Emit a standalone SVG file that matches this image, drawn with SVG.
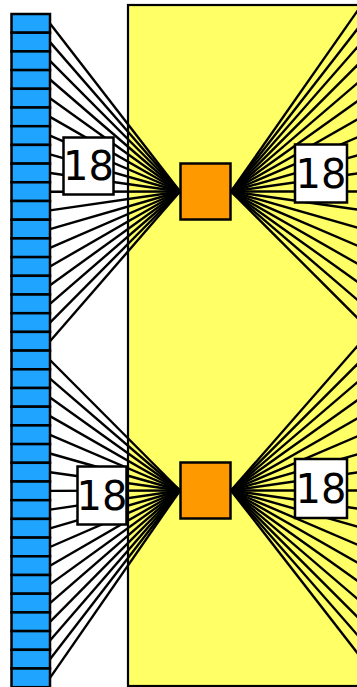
<svg xmlns="http://www.w3.org/2000/svg" width="357" height="687" viewBox="0 0 357 687">
<style>
.w{stroke:#000;stroke-width:2.4;fill:none}
.cell{fill:#1FA5FF;stroke:#000;stroke-width:2.5}
.hub{fill:#FF9900;stroke:#000;stroke-width:2.5}
.lbl{fill:#fff;stroke:#000;stroke-width:2.5}
.t{font-family:"DejaVu Sans",sans-serif;font-size:40px;fill:#000;text-anchor:middle}
</style>
<rect id="container" x="128" y="5" width="240" height="681" fill="#FFFF66" stroke="#000" stroke-width="2.2"/>
<g id="connectors" class="w">
<line x1="50" y1="23.4" x2="180" y2="191.5"/>
<line x1="50" y1="42.1" x2="180" y2="191.5"/>
<line x1="50" y1="60.8" x2="180" y2="191.5"/>
<line x1="50" y1="79.5" x2="180" y2="191.5"/>
<line x1="50" y1="98.2" x2="180" y2="191.5"/>
<line x1="50" y1="116.9" x2="180" y2="191.5"/>
<line x1="50" y1="135.6" x2="180" y2="191.5"/>
<line x1="50" y1="154.3" x2="180" y2="191.5"/>
<line x1="50" y1="173" x2="180" y2="191.5"/>
<line x1="50" y1="191.7" x2="180" y2="191.5"/>
<line x1="50" y1="210.4" x2="180" y2="191.5"/>
<line x1="50" y1="229.1" x2="180" y2="191.5"/>
<line x1="50" y1="247.8" x2="180" y2="191.5"/>
<line x1="50" y1="266.5" x2="180" y2="191.5"/>
<line x1="50" y1="285.2" x2="180" y2="191.5"/>
<line x1="50" y1="303.9" x2="180" y2="191.5"/>
<line x1="50" y1="322.6" x2="180" y2="191.5"/>
<line x1="50" y1="341.3" x2="180" y2="191.5"/>
<line x1="50" y1="360" x2="180" y2="490.5"/>
<line x1="50" y1="378.7" x2="180" y2="490.5"/>
<line x1="50" y1="397.4" x2="180" y2="490.5"/>
<line x1="50" y1="416.1" x2="180" y2="490.5"/>
<line x1="50" y1="434.8" x2="180" y2="490.5"/>
<line x1="50" y1="453.5" x2="180" y2="490.5"/>
<line x1="50" y1="472.2" x2="180" y2="490.5"/>
<line x1="50" y1="490.9" x2="180" y2="490.5"/>
<line x1="50" y1="509.6" x2="180" y2="490.5"/>
<line x1="50" y1="528.3" x2="180" y2="490.5"/>
<line x1="50" y1="547" x2="180" y2="490.5"/>
<line x1="50" y1="565.7" x2="180" y2="490.5"/>
<line x1="50" y1="584.4" x2="180" y2="490.5"/>
<line x1="50" y1="603.1" x2="180" y2="490.5"/>
<line x1="50" y1="621.8" x2="180" y2="490.5"/>
<line x1="50" y1="640.5" x2="180" y2="490.5"/>
<line x1="50" y1="659.2" x2="180" y2="490.5"/>
<line x1="50" y1="677.9" x2="180" y2="490.5"/>
<line x1="231" y1="191.5" x2="365" y2="0.1"/>
<line x1="231" y1="191.5" x2="365" y2="19.24"/>
<line x1="231" y1="191.5" x2="365" y2="38.38"/>
<line x1="231" y1="191.5" x2="365" y2="57.52"/>
<line x1="231" y1="191.5" x2="365" y2="76.66"/>
<line x1="231" y1="191.5" x2="365" y2="95.8"/>
<line x1="231" y1="191.5" x2="365" y2="114.94"/>
<line x1="231" y1="191.5" x2="365" y2="134.08"/>
<line x1="231" y1="191.5" x2="365" y2="153.22"/>
<line x1="231" y1="191.5" x2="365" y2="172.36"/>
<line x1="231" y1="191.5" x2="365" y2="191.5"/>
<line x1="231" y1="191.5" x2="365" y2="210.64"/>
<line x1="231" y1="191.5" x2="365" y2="229.78"/>
<line x1="231" y1="191.5" x2="365" y2="248.92"/>
<line x1="231" y1="191.5" x2="365" y2="268.06"/>
<line x1="231" y1="191.5" x2="365" y2="287.2"/>
<line x1="231" y1="191.5" x2="365" y2="306.34"/>
<line x1="231" y1="191.5" x2="365" y2="325.48"/>
<line x1="231" y1="490.5" x2="365" y2="337.38"/>
<line x1="231" y1="490.5" x2="365" y2="356.52"/>
<line x1="231" y1="490.5" x2="365" y2="375.66"/>
<line x1="231" y1="490.5" x2="365" y2="394.8"/>
<line x1="231" y1="490.5" x2="365" y2="413.94"/>
<line x1="231" y1="490.5" x2="365" y2="433.08"/>
<line x1="231" y1="490.5" x2="365" y2="452.22"/>
<line x1="231" y1="490.5" x2="365" y2="471.36"/>
<line x1="231" y1="490.5" x2="365" y2="490.5"/>
<line x1="231" y1="490.5" x2="365" y2="509.64"/>
<line x1="231" y1="490.5" x2="365" y2="528.78"/>
<line x1="231" y1="490.5" x2="365" y2="547.92"/>
<line x1="231" y1="490.5" x2="365" y2="567.06"/>
<line x1="231" y1="490.5" x2="365" y2="586.2"/>
<line x1="231" y1="490.5" x2="365" y2="605.34"/>
<line x1="231" y1="490.5" x2="365" y2="624.48"/>
<line x1="231" y1="490.5" x2="365" y2="643.62"/>
<line x1="231" y1="490.5" x2="365" y2="662.76"/>
</g>
<g id="column">
<rect class="cell" x="11.5" y="14" width="38.5" height="18.7"/>
<rect class="cell" x="11.5" y="32.7" width="38.5" height="18.7"/>
<rect class="cell" x="11.5" y="51.4" width="38.5" height="18.7"/>
<rect class="cell" x="11.5" y="70.1" width="38.5" height="18.7"/>
<rect class="cell" x="11.5" y="88.8" width="38.5" height="18.7"/>
<rect class="cell" x="11.5" y="107.5" width="38.5" height="18.7"/>
<rect class="cell" x="11.5" y="126.2" width="38.5" height="18.7"/>
<rect class="cell" x="11.5" y="144.9" width="38.5" height="18.7"/>
<rect class="cell" x="11.5" y="163.6" width="38.5" height="18.7"/>
<rect class="cell" x="11.5" y="182.3" width="38.5" height="18.7"/>
<rect class="cell" x="11.5" y="201" width="38.5" height="18.7"/>
<rect class="cell" x="11.5" y="219.7" width="38.5" height="18.7"/>
<rect class="cell" x="11.5" y="238.4" width="38.5" height="18.7"/>
<rect class="cell" x="11.5" y="257.1" width="38.5" height="18.7"/>
<rect class="cell" x="11.5" y="275.8" width="38.5" height="18.7"/>
<rect class="cell" x="11.5" y="294.5" width="38.5" height="18.7"/>
<rect class="cell" x="11.5" y="313.2" width="38.5" height="18.7"/>
<rect class="cell" x="11.5" y="331.9" width="38.5" height="18.7"/>
<rect class="cell" x="11.5" y="350.6" width="38.5" height="18.7"/>
<rect class="cell" x="11.5" y="369.3" width="38.5" height="18.7"/>
<rect class="cell" x="11.5" y="388" width="38.5" height="18.7"/>
<rect class="cell" x="11.5" y="406.7" width="38.5" height="18.7"/>
<rect class="cell" x="11.5" y="425.4" width="38.5" height="18.7"/>
<rect class="cell" x="11.5" y="444.1" width="38.5" height="18.7"/>
<rect class="cell" x="11.5" y="462.8" width="38.5" height="18.7"/>
<rect class="cell" x="11.5" y="481.5" width="38.5" height="18.7"/>
<rect class="cell" x="11.5" y="500.2" width="38.5" height="18.7"/>
<rect class="cell" x="11.5" y="518.9" width="38.5" height="18.7"/>
<rect class="cell" x="11.5" y="537.6" width="38.5" height="18.7"/>
<rect class="cell" x="11.5" y="556.3" width="38.5" height="18.7"/>
<rect class="cell" x="11.5" y="575" width="38.5" height="18.7"/>
<rect class="cell" x="11.5" y="593.7" width="38.5" height="18.7"/>
<rect class="cell" x="11.5" y="612.4" width="38.5" height="18.7"/>
<rect class="cell" x="11.5" y="631.1" width="38.5" height="18.7"/>
<rect class="cell" x="11.5" y="649.8" width="38.5" height="18.7"/>
<rect class="cell" x="11.5" y="668.5" width="38.5" height="18.7"/>
</g>
<g id="hub-top"><rect class="hub" x="180.5" y="163.5" width="50" height="56"/></g>
<g id="hub-bottom"><rect class="hub" x="180.5" y="462.5" width="50" height="56"/></g>
<g id="label-top-left"><rect class="lbl" x="63.5" y="137.5" width="50" height="57"/><text class="t" x="88.5" y="180">18</text></g>
<g id="label-bottom-left"><rect class="lbl" x="77.5" y="466.5" width="49" height="58"/><text class="t" x="102" y="510">18</text></g>
<g id="label-top-right"><rect class="lbl" x="295" y="144.5" width="52" height="58"/><text class="t" x="321" y="188">18</text></g>
<g id="label-bottom-right"><rect class="lbl" x="295" y="459" width="52" height="59"/><text class="t" x="321" y="503">18</text></g>
</svg>
